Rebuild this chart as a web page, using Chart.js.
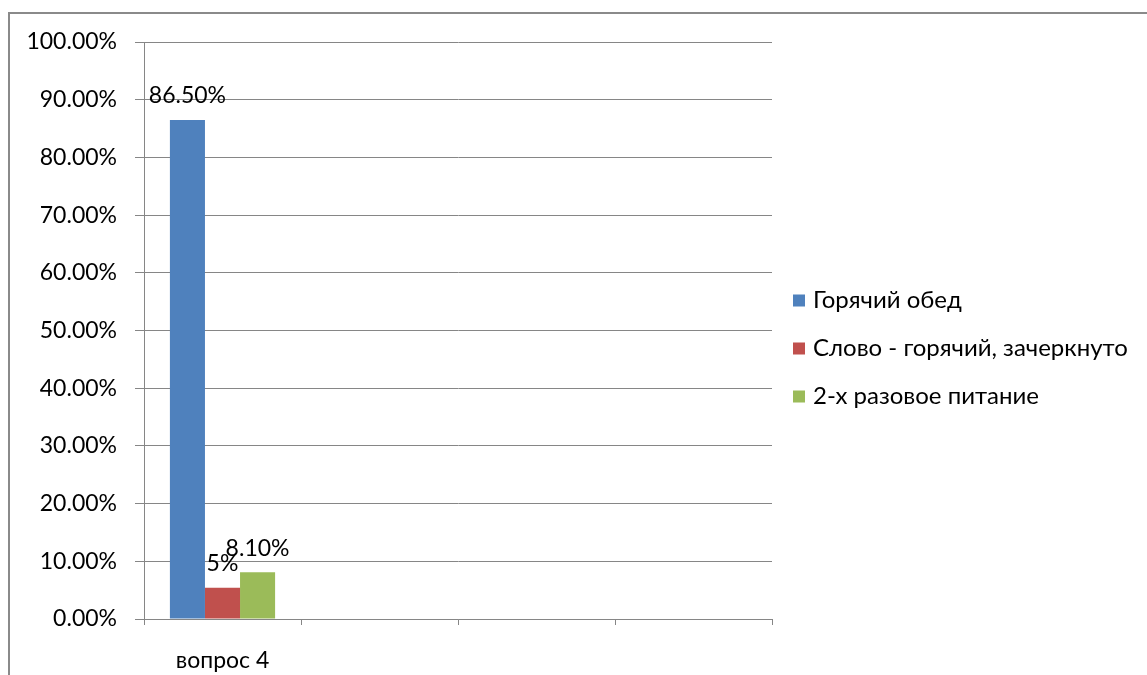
<!DOCTYPE html>
<html>
<head>
<meta charset="utf-8">
<script src="https://cdn.jsdelivr.net/npm/chart.js@4"></script>
<style>
  html, body { margin: 0; padding: 0; background: #fff; }
  body { width: 1147px; height: 675px; overflow: hidden; position: relative; }
  .frame {
    position: absolute; left: 8px; top: 12px; width: 1139px; height: 663px;
    border-left: 2px solid #8a8a8a; border-top: 2px solid #8a8a8a;
  }
  .box { position: absolute; left: 0; top: 0; width: 1137px; height: 661px; }
</style>
</head>
<body>
<div class="frame">
  <div class="box"><canvas id="chart"></canvas></div>
</div>
<script>
// categories (only the first one is labelled in the source)
const categories = ["вопрос 4", "", "", ""];

// series
const seriesNames = ["Горячий обед", "Слово - горячий, зачеркнуто", "2-х разовое питание"];
const hotLunch = [86.5, null, null, null];
const crossedOut = [5.4, null, null, null];
const twoMeals = [8.1, null, null, null];

// labels shown above the bars
const hotLunchLabels = ["86.50%"];
const crossedOutLabels = ["5%"];
const twoMealsLabels = ["8.10%"];

const colors = ["#4F81BD", "#C0504D", "#9BBB59"];
const gridColor = "#868686";
const fontFamily = "Lato, 'Open Sans', sans-serif";

// value labels drawn above each bar
const barLabels = {
  id: "barLabels",
  afterDatasetsDraw(chart) {
    const ctx = chart.ctx;
    ctx.save();
    ctx.font = "23px " + fontFamily;
    ctx.fillStyle = "#000";
    ctx.textAlign = "center";
    ctx.textBaseline = "middle";
    chart.data.datasets.forEach((ds, i) => {
      const meta = chart.getDatasetMeta(i);
      meta.data.forEach((bar, j) => {
        if (ds.data[j] == null || !ds.valueLabels[j]) return;
        ctx.fillText(ds.valueLabels[j], bar.x, bar.y - 24);
      });
    });
    ctx.restore();
  }
};

// legend on the right, drawn by hand because the built-in one is capped in width
const sideLegend = {
  id: "sideLegend",
  afterDraw(chart) {
    const ctx = chart.ctx;
    const x = chart.chartArea.right + 21;
    const step = 48;
    const y0 = chart.height / 2 + 4 - step;
    ctx.save();
    ctx.font = "24px " + fontFamily;
    ctx.textBaseline = "middle";
    ctx.textAlign = "left";
    chart.data.datasets.forEach((ds, i) => {
      const y = y0 + i * step;
      ctx.fillStyle = ds.backgroundColor;
      ctx.fillRect(x, y - 6, 12, 12);
      ctx.fillStyle = "#000";
      ctx.fillText(ds.label, x + 20, y);
    });
    ctx.restore();
  }
};

new Chart(document.getElementById("chart"), {
  type: "bar",
  data: {
    labels: categories,
    datasets: [
      { label: seriesNames[0], data: hotLunch, valueLabels: hotLunchLabels, backgroundColor: colors[0] },
      { label: seriesNames[1], data: crossedOut, valueLabels: crossedOutLabels, backgroundColor: colors[1] },
      { label: seriesNames[2], data: twoMeals, valueLabels: twoMealsLabels, backgroundColor: colors[2] }
    ]
  },
  options: {
    responsive: true,
    maintainAspectRatio: false,
    animation: false,
    datasets: { bar: { categoryPercentage: 0.67, barPercentage: 1, skipNull: false } },
    layout: { padding: { left: 16, top: 28, right: 375, bottom: 0 } },
    plugins: {
      tooltip: { enabled: false },
      legend: { display: false }
    },
    scales: {
      x: {
        afterFit: s => { s.height = 56; },
        grid: { drawOnChartArea: false, drawTicks: true, tickLength: 6, color: gridColor, offset: true },
        border: { color: gridColor, width: 1 },
        ticks: { color: "#000", padding: 22, font: { family: fontFamily, size: 23 }, maxRotation: 0 }
      },
      y: {
        min: 0, max: 100,
        afterFit: s => { s.width = 118; s.paddingTop = 0; s.paddingBottom = 0; },
        grid: { color: gridColor, tickLength: 9, lineWidth: 1 },
        border: { color: gridColor, width: 1 },
        ticks: {
          stepSize: 10, padding: 18, color: "#000",
          font: { family: fontFamily, size: 23 },
          callback: v => v.toFixed(2) + "%"
        }
      }
    }
  },
  plugins: [barLabels, sideLegend]
});
</script>
</body>
</html>
